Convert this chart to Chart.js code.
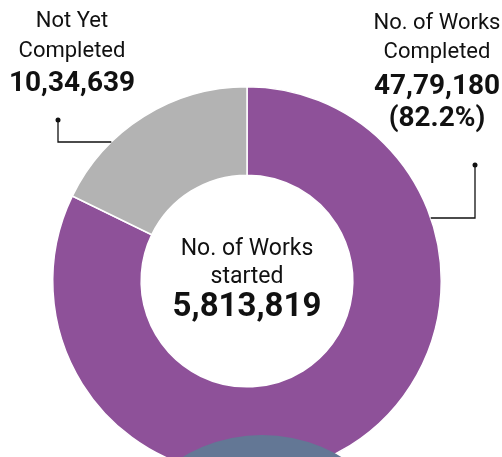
<!DOCTYPE html>
<html>
<head>
<meta charset="utf-8">
<script src="https://cdn.jsdelivr.net/npm/chart.js@4"></script>
<style>
  html, body { margin: 0; padding: 0; background: #fff; overflow: hidden; }
  #wrap { width: 502px; height: 457px; overflow: hidden; position: relative; }
</style>
</head>
<body>
<div id="wrap"><canvas id="donut" width="502" height="520"></canvas></div>
<script>
// data
const categories = ['No. of Works Completed', 'Not Yet Completed'];
const worksValues = [4779180, 1034639];
const valueLabels = ['47,79,180', '10,34,639'];
const totalLabel = '5,813,819';
const sliceColors = ['#8E5199', '#B3B3B3'];

const FONT = 'Roboto, "Liberation Sans", sans-serif';

// callout text, leader lines, center label
const calloutPlugin = {
  id: 'callouts',
  afterDatasetsDraw(chart) {
    const ctx = chart.ctx;
    const arcs = chart.getDatasetMeta(0).data;
    const cx = arcs[0].x, cy = arcs[0].y, R = arcs[0].outerRadius;

    // bluish circle at the bottom (partly cut off)
    ctx.save();
    ctx.fillStyle = '#637795';
    ctx.beginPath();
    ctx.arc(262, 590, 155, 0, Math.PI * 2);
    ctx.fill();
    ctx.restore();

    ctx.save();
    ctx.fillStyle = '#111';
    ctx.textAlign = 'center';
    ctx.textBaseline = 'middle';

    // center
    ctx.font = '23px ' + FONT;
    ctx.fillText('No. of Works', cx, 249);
    ctx.fillText('started', cx, 277);
    ctx.font = 'bold 33px ' + FONT;
    ctx.fillText(totalLabel, cx, 308);

    // left callout (Not Yet Completed)
    ctx.font = '22px ' + FONT;
    ctx.fillText('Not Yet', 72, 21);
    ctx.fillText('Completed', 72, 51);
    ctx.font = 'bold 28px ' + FONT;
    ctx.fillText(valueLabels[1], 72, 84);

    // right callout
    ctx.font = '22px ' + FONT;
    ctx.fillText('No. of Works', 437, 23);
    ctx.fillText('Completed', 437, 52);
    ctx.font = 'bold 28px ' + FONT;
    ctx.fillText(valueLabels[0], 437, 87);
    const pct = (worksValues[0] / worksValues.reduce((a, b) => a + b, 0) * 100).toFixed(1);
    ctx.fillText('(' + pct + '%)', 437, 119);

    // leader lines end on the outer edge of the ring
    ctx.strokeStyle = '#111';
    ctx.lineWidth = 1.3;
    const edgeX = (y, side) => cx + side * Math.sqrt(R * R - (cy - y) * (cy - y));

    let y1 = 142;
    ctx.beginPath();
    ctx.moveTo(58, 120);
    ctx.lineTo(58, y1);
    ctx.lineTo(edgeX(y1, -1), y1);
    ctx.stroke();
    ctx.beginPath(); ctx.arc(58, 120, 2.5, 0, Math.PI * 2); ctx.fill();

    let y2 = 218;
    ctx.beginPath();
    ctx.moveTo(475, 165);
    ctx.lineTo(475, y2);
    ctx.lineTo(edgeX(y2, 1), y2);
    ctx.stroke();
    ctx.beginPath(); ctx.arc(475, 165, 2.5, 0, Math.PI * 2); ctx.fill();

    ctx.restore();
  }
};

new Chart(document.getElementById('donut'), {
  type: 'doughnut',
  data: {
    labels: categories,
    datasets: [{
      data: worksValues,
      backgroundColor: sliceColors,
      borderColor: '#ffffff',
      borderWidth: 1.5
    }]
  },
  options: {
    responsive: false,
    animation: false,
    cutout: '54.5%',
    layout: { padding: { left: 52, right: 60, top: 86, bottom: 44 } },
    plugins: {
      legend: { display: false },
      tooltip: { enabled: false }
    }
  },
  plugins: [calloutPlugin]
});
</script>
</body>
</html>
